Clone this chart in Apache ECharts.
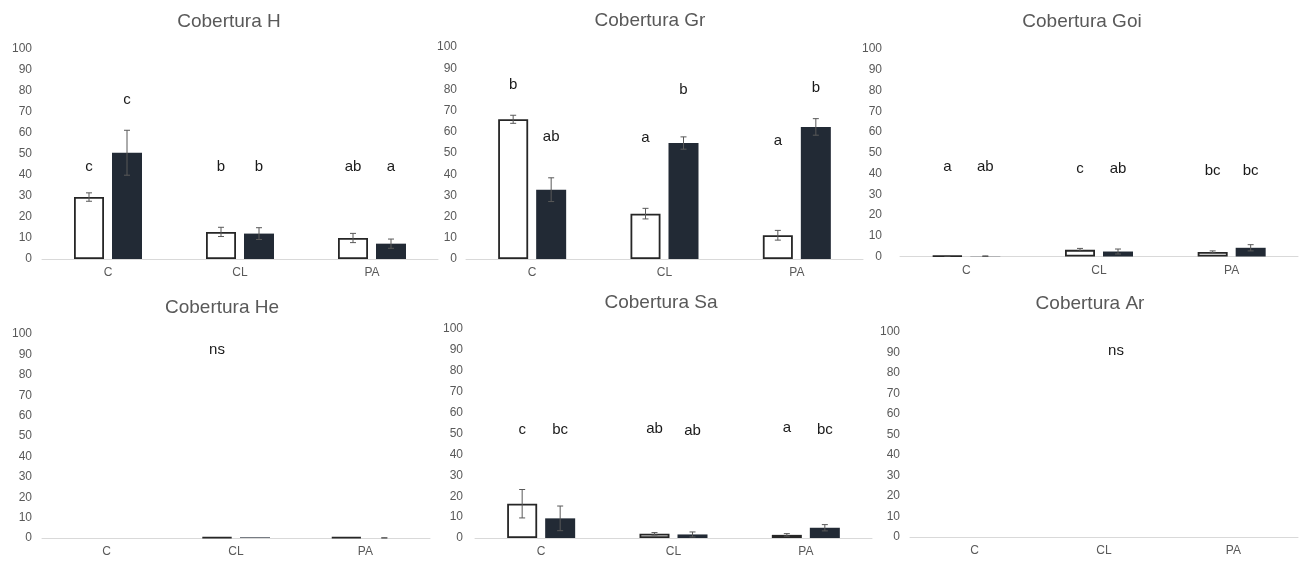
<!DOCTYPE html>
<html>
<head>
<meta charset="utf-8">
<script src="https://cdn.jsdelivr.net/npm/echarts@6/dist/echarts.min.js"></script>
<style>html,body{margin:0;padding:0;background:#fff}#c{width:1304px;height:561px}</style>
</head>
<body>
<div id="c"></div>
<script>
const categories = ['C', 'CL', 'PA'];
const titles = ['Cobertura H', 'Cobertura Gr', 'Cobertura Goi', 'Cobertura He', 'Cobertura Sa', 'Cobertura Ar'];

// Cobertura H
const hWhite = [29.5, 12.9, 10.0];
const hWhiteErr = [2.0, 2.2, 2.2];
const hDark = [50.6, 12.1, 7.3];
const hDarkErr = [10.7, 2.8, 2.2];
const hWhiteLetters = ['c', 'b', 'ab'];
const hWhiteLetterY = [44, 44, 44];
const hDarkLetters = ['c', 'b', 'a'];
const hDarkLetterY = [76, 44, 44];

// Cobertura Gr
const grWhite = [65.9, 21.4, 11.2];
const grWhiteErr = [1.9, 2.5, 2.3];
const grDark = [32.7, 54.7, 62.3];
const grDarkErr = [5.6, 2.9, 3.9];
const grWhiteLetters = ['b', 'a', 'a'];
const grWhiteLetterY = [82, 57, 55.5];
const grDarkLetters = ['ab', 'b', 'b'];
const grDarkLetterY = [57.5, 79.6, 80.7];

// Cobertura Goi
const goiWhite = [0.3, 3.2, 2.2];
const goiWhiteErr = [0.1, 0.7, 0.5];
const goiDark = [0.1, 2.4, 4.2];
const goiDarkErr = [0.2, 1.2, 1.5];
const goiWhiteLetters = ['a', 'c', 'bc'];
const goiWhiteLetterY = [43, 42, 41.5];
const goiDarkLetters = ['ab', 'ab', 'bc'];
const goiDarkLetterY = [43, 42, 41.5];

// Cobertura He
const heWhite = [0, 0.3, 0.4];
const heWhiteErr = [0, 0, 0];
const heDark = [0, 0.3, 0];
const heDarkErr = [0, 0, 0.1];
const heNsY = 92;

// Cobertura Sa
const saWhite = [16.4, 2.0, 1.5];
const saWhiteErr = [6.8, 0.6, 0.6];
const saDark = [9.4, 1.7, 4.9];
const saDarkErr = [5.9, 1.2, 1.5];
const saWhiteLetters = ['c', 'ab', 'a'];
const saWhiteLetterY = [51.8, 52, 52.6];
const saDarkLetters = ['bc', 'ab', 'bc'];
const saDarkLetterY = [51.8, 51.3, 51.8];

// Cobertura Ar
const arWhite = [0, 0, 0];
const arWhiteErr = [0, 0, 0];
const arDark = [0, 0, 0];
const arDarkErr = [0, 0, 0];
const arNsY = 91;

const yTickMin = 0, yTickMax = 100, yTickStep = 10;

const panels = [
  {w: hWhite, we: hWhiteErr, d: hDark, de: hDarkErr, wl: hWhiteLetters, wly: hWhiteLetterY, dl: hDarkLetters, dly: hDarkLetterY},
  {w: grWhite, we: grWhiteErr, d: grDark, de: grDarkErr, wl: grWhiteLetters, wly: grWhiteLetterY, dl: grDarkLetters, dly: grDarkLetterY},
  {w: goiWhite, we: goiWhiteErr, d: goiDark, de: goiDarkErr, wl: goiWhiteLetters, wly: goiWhiteLetterY, dl: goiDarkLetters, dly: goiDarkLetterY},
  {w: heWhite, we: heWhiteErr, d: heDark, de: heDarkErr, ns: heNsY},
  {w: saWhite, we: saWhiteErr, d: saDark, de: saDarkErr, wl: saWhiteLetters, wly: saWhiteLetterY, dl: saDarkLetters, dly: saDarkLetterY},
  {w: arWhite, we: arWhiteErr, d: arDark, de: arDarkErr, ns: arNsY}
];

// layout (styling only)
const grids = [
  {left: 42, top: 49, width: 396, height: 210},
  {left: 466, top: 47, width: 397, height: 212},
  {left: 900, top: 49, width: 398, height: 207.5},
  {left: 42, top: 334, width: 388, height: 204},
  {left: 475, top: 329, width: 397, height: 209},
  {left: 910, top: 332, width: 388, height: 205}
];
const yLabelMargin = [10, 9, 18, 10, 12, 10];
const titlePos = [[229, 12], [650, 11], [1082, 12], [222, 298], [661, 293], [1090, 294]];
const nsDx = {3: -19, 5: 12};

const FONT = '"Liberation Sans", Arial, sans-serif';
const BAR_W = 30, GAP = 8;
const OFF = (BAR_W + GAP) / 2;
const DARK = '#222a35';

function errSeries(g, vals, errs, side) {
  return {
    type: 'custom', xAxisIndex: g, yAxisIndex: g, z: 10, silent: true,
    data: vals.map((v, i) => [i, v, errs[i]]),
    renderItem: function (params, api) {
      const i = api.value(0), v = api.value(1), e = api.value(2);
      if (!(e > 0)) return null;
      const x = api.coord([i, v])[0] + side * OFF;
      const yt = api.coord([i, v + e])[1];
      const yb = api.coord([i, Math.max(v - e, 0)])[1];
      const st = {stroke: '#595959', lineWidth: 1};
      return {type: 'group', children: [
        {type: 'line', shape: {x1: x, y1: yt, x2: x, y2: yb}, style: st},
        {type: 'line', shape: {x1: x - 3, y1: yt, x2: x + 3, y2: yt}, style: st},
        {type: 'line', shape: {x1: x - 3, y1: yb, x2: x + 3, y2: yb}, style: st}
      ]};
    }
  };
}

function textSeries(g, ys, texts, dx) {
  return {
    type: 'custom', xAxisIndex: g, yAxisIndex: g, z: 11, silent: true,
    data: ys.map((y, i) => [i, y]),
    renderItem: function (params, api) {
      const p = api.coord([api.value(0), api.value(1)]);
      return {type: 'text', style: {text: texts[params.dataIndex], x: p[0] + dx, y: p[1],
        align: 'center', verticalAlign: 'middle', fill: '#1a1a1a', font: '15px ' + FONT}};
    }
  };
}

function nsSeries(g, y, dx) {
  return {
    type: 'custom', xAxisIndex: g, yAxisIndex: g, z: 11, silent: true,
    data: [[1, y]],
    renderItem: function (params, api) {
      const q = api.coord([api.value(0), api.value(1)]);
      return {type: 'text', style: {text: 'ns', x: q[0] + dx, y: q[1],
        align: 'center', verticalAlign: 'middle', fill: '#1a1a1a', font: '15px ' + FONT}};
    }
  };
}

const option = {
  backgroundColor: '#ffffff',
  animation: false,
  title: titles.map((t, g) => ({
    text: t, left: titlePos[g][0], top: titlePos[g][1], textAlign: 'center', padding: 0,
    textStyle: {color: '#595959', fontSize: 19, fontWeight: 'normal', fontFamily: FONT}
  })),
  grid: grids.map(g => Object.assign({containLabel: false}, g)),
  xAxis: grids.map((_, g) => ({
    type: 'category', gridIndex: g, data: categories,
    axisLine: {lineStyle: {color: '#d9d9d9', width: 1}},
    axisTick: {show: false},
    axisLabel: {color: '#595959', fontSize: 12, fontFamily: FONT, margin: 8},
    splitLine: {show: false}
  })),
  yAxis: grids.map((_, g) => ({
    type: 'value', gridIndex: g, min: yTickMin, max: yTickMax, interval: yTickStep,
    axisLine: {show: false}, axisTick: {show: false}, splitLine: {show: false},
    axisLabel: {color: '#595959', fontSize: 12, fontFamily: FONT, margin: yLabelMargin[g]}
  })),
  series: []
};

panels.forEach((p, g) => {
  option.series.push({
    type: 'bar', xAxisIndex: g, yAxisIndex: g, data: p.w.map(v => v === 0 ? '-' : v),
    barWidth: BAR_W, barGap: (GAP / BAR_W * 100) + '%',
    itemStyle: {color: '#ffffff', borderColor: '#262626', borderWidth: 1.8}, silent: true
  });
  option.series.push({
    type: 'bar', xAxisIndex: g, yAxisIndex: g, data: p.d.map(v => v === 0 ? '-' : v),
    barWidth: BAR_W, barGap: (GAP / BAR_W * 100) + '%',
    itemStyle: {color: DARK}, silent: true
  });
  option.series.push(errSeries(g, p.w, p.we, -1));
  option.series.push(errSeries(g, p.d, p.de, 1));
  if (p.wl) {
    option.series.push(textSeries(g, p.wly, p.wl, -OFF));
    option.series.push(textSeries(g, p.dly, p.dl, OFF));
  }
  if (p.ns !== undefined) {
    option.series.push(nsSeries(g, p.ns, nsDx[g]));
  }
});

const chart = echarts.init(document.getElementById('c'), null, {renderer: 'canvas'});
chart.setOption(option);
</script>
</body>
</html>
